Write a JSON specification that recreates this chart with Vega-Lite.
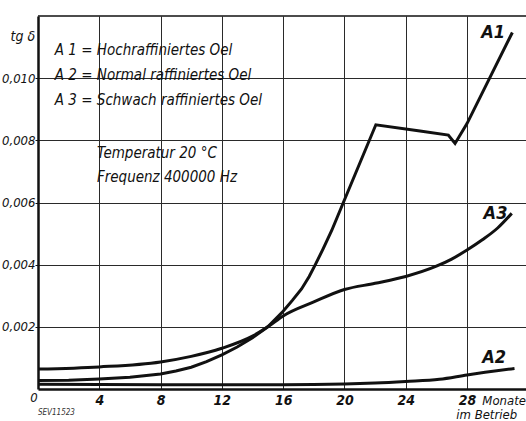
{
  "$schema": "https://vega.github.io/schema/vega-lite/v6.json",
  "width": 488,
  "height": 373,
  "autosize": {"type": "none"},
  "padding": {"left": 38, "top": 16, "right": 0, "bottom": 32},
  "background": "white",
  "config": {"view": {"stroke": null}, "font": "'DejaVu Sans Condensed', 'Liberation Sans', sans-serif"},
  "datasets": {
    "curves": [
      {"series": "A1", "month": 0, "tg": 0.00027},
      {"series": "A1", "month": 2, "tg": 0.00028},
      {"series": "A1", "month": 4, "tg": 0.00032},
      {"series": "A1", "month": 6, "tg": 0.00038},
      {"series": "A1", "month": 8, "tg": 0.00048},
      {"series": "A1", "month": 9, "tg": 0.00058},
      {"series": "A1", "month": 10, "tg": 0.0007},
      {"series": "A1", "month": 11, "tg": 0.00088},
      {"series": "A1", "month": 12, "tg": 0.0011},
      {"series": "A1", "month": 13, "tg": 0.00135},
      {"series": "A1", "month": 14, "tg": 0.00165},
      {"series": "A1", "month": 15, "tg": 0.002},
      {"series": "A1", "month": 16, "tg": 0.0025},
      {"series": "A1", "month": 16.6, "tg": 0.00285},
      {"series": "A1", "month": 17.2, "tg": 0.00322},
      {"series": "A1", "month": 17.7, "tg": 0.00362},
      {"series": "A1", "month": 18.1, "tg": 0.004},
      {"series": "A1", "month": 18.6, "tg": 0.0045},
      {"series": "A1", "month": 19.17, "tg": 0.0051},
      {"series": "A1", "month": 19.93, "tg": 0.006},
      {"series": "A1", "month": 22.05, "tg": 0.0085},
      {"series": "A1", "month": 24.93, "tg": 0.0083},
      {"series": "A1", "month": 26.78, "tg": 0.00817},
      {"series": "A1", "month": 27.22, "tg": 0.0079},
      {"series": "A1", "month": 28, "tg": 0.00854},
      {"series": "A1", "month": 30.96, "tg": 0.01147},
      {"series": "A2", "month": 0, "tg": 0.00015},
      {"series": "A2", "month": 8, "tg": 0.00014},
      {"series": "A2", "month": 16, "tg": 0.00014},
      {"series": "A2", "month": 20, "tg": 0.00016},
      {"series": "A2", "month": 22, "tg": 0.00019},
      {"series": "A2", "month": 24, "tg": 0.00024},
      {"series": "A2", "month": 26.2, "tg": 0.00031},
      {"series": "A2", "month": 28, "tg": 0.00045},
      {"series": "A2", "month": 31.1, "tg": 0.00066},
      {"series": "A3", "month": 0, "tg": 0.00064},
      {"series": "A3", "month": 4, "tg": 0.00071},
      {"series": "A3", "month": 8, "tg": 0.00087},
      {"series": "A3", "month": 10, "tg": 0.00105},
      {"series": "A3", "month": 12, "tg": 0.00131},
      {"series": "A3", "month": 14, "tg": 0.0017},
      {"series": "A3", "month": 15, "tg": 0.002},
      {"series": "A3", "month": 16, "tg": 0.00235},
      {"series": "A3", "month": 18, "tg": 0.0028},
      {"series": "A3", "month": 20, "tg": 0.0032},
      {"series": "A3", "month": 22, "tg": 0.0034},
      {"series": "A3", "month": 24, "tg": 0.00362},
      {"series": "A3", "month": 26, "tg": 0.00395},
      {"series": "A3", "month": 27, "tg": 0.00418},
      {"series": "A3", "month": 28, "tg": 0.00447},
      {"series": "A3", "month": 29, "tg": 0.0048},
      {"series": "A3", "month": 30, "tg": 0.00518},
      {"series": "A3", "month": 30.92, "tg": 0.00565}
    ],
    "notes": [
      {"kind": "legend", "text": "A 1  =  Hochraffiniertes Oel", "month": 1.1, "tg": 0.0109},
      {"kind": "legend", "text": "A 2  =  Normal raffiniertes Oel", "month": 1.1, "tg": 0.0101},
      {"kind": "legend", "text": "A 3  =  Schwach raffiniertes Oel", "month": 1.1, "tg": 0.0093},
      {"kind": "legend", "text": "Temperatur 20 °C", "month": 3.85, "tg": 0.00759},
      {"kind": "legend", "text": "Frequenz 400000 Hz", "month": 3.85, "tg": 0.00682},
      {"kind": "curve", "text": "A1", "month": 29.7, "tg": 0.01145},
      {"kind": "curve", "text": "A3", "month": 29.86, "tg": 0.00563},
      {"kind": "curve", "text": "A2", "month": 29.77, "tg": 0.00101},
      {"kind": "unit", "text": "Monate", "month": 29.0, "tg": -0.00037},
      {"kind": "unit", "text": "im Betrieb", "month": 27.3, "tg": -0.00084},
      {"kind": "origin", "text": "0", "month": -0.5, "tg": -0.0003},
      {"kind": "ref", "text": "SEV11523", "month": 0, "tg": -0.00077}
    ]
  },
  "layer": [
    {
      "data": {"name": "curves"},
      "transform": [{"filter": "datum.series === 'A1'"}],
      "mark": {"type": "line", "color": "#111", "strokeWidth": 3, "interpolate": "linear", "strokeJoin": "miter"},
      "encoding": {
        "x": {
          "field": "month", "type": "quantitative",
          "scale": {"domain": [0, 31.85], "nice": false, "zero": false},
          "axis": {
            "title": null, "values": [4, 8, 12, 16, 20, 24, 28],
            "grid": true, "gridColor": "#2a2a2a", "gridWidth": 1,
            "domainColor": "#111", "domainWidth": 2.5, "ticks": false,
            "labelFontStyle": "italic", "labelFontWeight": "bold",
            "labelFontSize": 14, "labelColor": "#111", "labelPadding": 4
          }
        },
        "y": {
          "field": "tg", "type": "quantitative",
          "scale": {"domain": [0, 0.012], "nice": false, "zero": false},
          "axis": {
            "values": [0.002, 0.004, 0.006, 0.008, 0.01],
            "labelExpr": "replace(format(datum.value, '.3f'), '.', ',')",
            "grid": true, "gridColor": "#2a2a2a", "gridWidth": 1,
            "domainColor": "#111", "domainWidth": 2.5,
            "ticks": true, "tickSize": 3, "tickColor": "#111",
            "labelFontStyle": "italic",
            "labelFontSize": 13, "labelColor": "#111", "labelPadding": 0,
            "title": "tg δ", "titleAngle": 0, "titleX": -28, "titleY": 20,
            "titleAlign": "left", "titleBaseline": "middle",
            "titleFontStyle": "italic",
            "titleFontWeight": "normal", "titleFontSize": 14, "titleColor": "#111"
          }
        }
      }
    },
    {
      "data": {"name": "curves"},
      "transform": [{"filter": "datum.series !== 'A1'"}],
      "mark": {"type": "line", "color": "#111", "strokeWidth": 3, "interpolate": "monotone"},
      "encoding": {
        "x": {"field": "month", "type": "quantitative"},
        "y": {"field": "tg", "type": "quantitative"},
        "detail": {"field": "series"}
      }
    },
    {
      "data": {"values": [{"edge": "top"}]},
      "mark": {"type": "rule", "color": "#111", "strokeWidth": 1.5},
      "encoding": {"y": {"datum": 0.012}}
    },
    {
      "data": {"name": "notes"},
      "transform": [{"filter": "datum.kind === 'legend'"}],
      "mark": {"type": "text", "align": "left", "baseline": "middle", "fontStyle": "italic", "fontSize": 15, "color": "#111"},
      "encoding": {
        "x": {"field": "month", "type": "quantitative"},
        "y": {"field": "tg", "type": "quantitative"},
        "text": {"field": "text"}
      }
    },
    {
      "data": {"name": "notes"},
      "transform": [{"filter": "datum.kind === 'curve'"}],
      "mark": {"type": "text", "align": "center", "baseline": "middle", "fontStyle": "italic", "fontWeight": "bold", "fontSize": 18, "color": "#111"},
      "encoding": {
        "x": {"field": "month", "type": "quantitative"},
        "y": {"field": "tg", "type": "quantitative"},
        "text": {"field": "text"}
      }
    },
    {
      "data": {"name": "notes"},
      "transform": [{"filter": "datum.kind === 'unit' || datum.kind === 'origin'"}],
      "mark": {"type": "text", "align": "left", "baseline": "middle", "fontStyle": "italic", "fontSize": 13, "color": "#111"},
      "encoding": {
        "x": {"field": "month", "type": "quantitative"},
        "y": {"field": "tg", "type": "quantitative"},
        "text": {"field": "text"}
      }
    },
    {
      "data": {"name": "notes"},
      "transform": [{"filter": "datum.kind === 'ref'"}],
      "mark": {"type": "text", "align": "left", "baseline": "middle", "fontStyle": "italic", "fontSize": 8, "color": "#333"},
      "encoding": {
        "x": {"field": "month", "type": "quantitative"},
        "y": {"field": "tg", "type": "quantitative"},
        "text": {"field": "text"}
      }
    }
  ]
}
